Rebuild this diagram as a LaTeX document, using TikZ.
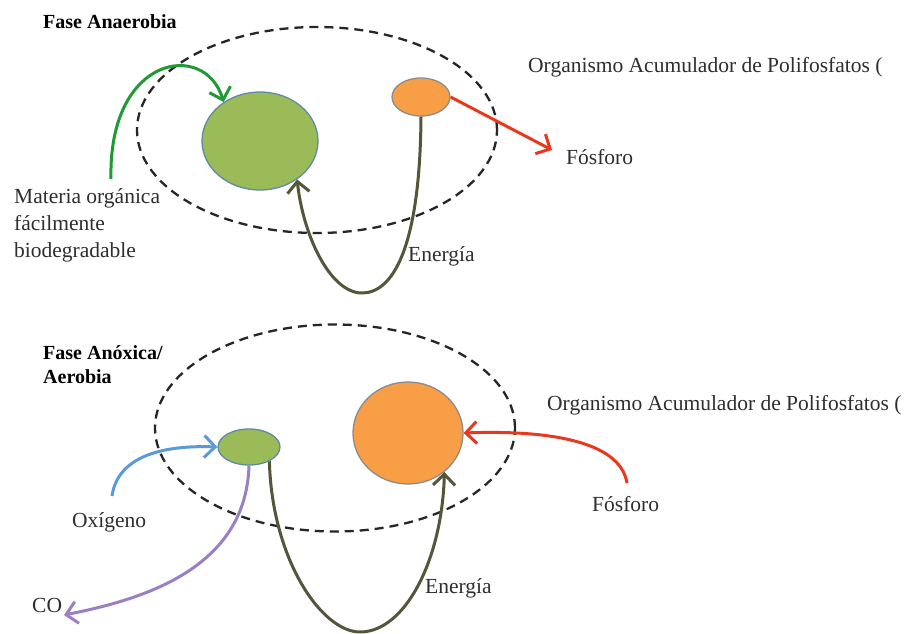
\documentclass[tikz,border=0pt]{standalone}
\usepackage{fontspec}
\setmainfont{LiberationSerif}[Extension=.ttf,UprightFont=*-Regular,BoldFont=*-Bold,ItalicFont=*-Italic,BoldItalicFont=*-BoldItalic]
\usetikzlibrary{arrows.meta,shapes.geometric}
\definecolor{txt}{HTML}{2E2E2E}
\definecolor{gfill}{HTML}{9BBB59}
\definecolor{gedge}{HTML}{5F8AA6}
\definecolor{ofill}{HTML}{F79E46}
\definecolor{oedge}{HTML}{8C8C8C}
\definecolor{olive}{HTML}{55553A}
\definecolor{garrow}{HTML}{1F9A34}
\definecolor{rarrow}{HTML}{E8391E}
\definecolor{barrow}{HTML}{5B9BD5}
\definecolor{parrow}{HTML}{9B7FC4}
\begin{document}
\begin{tikzpicture}[x=1pt,y=-1pt,
  lbl/.style={text=txt,font=\fontsize{21.5}{27}\selectfont,inner sep=0pt},
  ttl/.style={text=black,font=\fontsize{20}{24}\selectfont\bfseries,inner sep=0pt,anchor=west,align=left},
  zone/.style={draw=black!85,line width=2.3pt,dash pattern=on 9pt off 6pt},
  gcell/.style={ellipse,draw=gedge,line width=1.3pt,fill=gfill,inner sep=0pt},
  ocell/.style={ellipse,draw=oedge,line width=1.3pt,fill=ofill,inner sep=0pt},
  flow/.style={line width=3pt,-{Straight Barb[length=11pt,width=22pt]}}
]
\useasboundingbox (0,0) rectangle (915,634);
\clip (0,0) rectangle (915,634);
\fill[white] (0,0) rectangle (915,634);

% ---------- Top: Fase Anaerobia ----------
\node[ttl] (t1) at (43,22) {Fase Anaerobia};
\node[zone,ellipse,minimum width=360pt,minimum height=206pt,inner sep=0pt] (z1) at (317,130) {};
\node[gcell,minimum width=116pt,minimum height=98pt] (g1) at (260,141) {};
\node[ocell,minimum width=58pt,minimum height=38pt] (o1) at (421,97) {};
\node[lbl,anchor=west] (org1) at (528,67) {Organismo Acumulador de Polifosfatos (};
\node[lbl,anchor=west] (f1) at (566,157) {Fósforo};
\node[lbl,anchor=west] (e1) at (408,256) {Energía};
\node[lbl,anchor=north west,align=left] (m1) at (14,188) {Materia orgánica\\fácilmente\\biodegradable};
\coordinate (ms) at (111,179);
\coordinate (fp1) at (552,150);

\draw[flow,garrow] (ms) .. controls (108,55) and (205,40) .. (g1.133);
\draw[flow,rarrow] (o1.east) -- (fp1);
\draw[flow,olive] (o1.south) .. controls (420,250) and (392,293) .. (362,293)
  .. controls (330,293) and (303,235) .. (g1.-46);

% ---------- Bottom: Fase Anoxica/Aerobia ----------
\node[ttl] (t2) at (43,365) {Fase Anóxica/\\Aerobia};
\node[zone,ellipse,minimum width=360pt,minimum height=207pt,inner sep=0pt] (z2) at (335,428) {};
\node[gcell,minimum width=62pt,minimum height=36pt] (g2) at (249,447) {};
\node[ocell,minimum width=110pt,minimum height=102pt] (o2) at (408,433) {};
\node[lbl,anchor=west] (org2) at (547,405) {Organismo Acumulador de Polifosfatos (};
\node[lbl,anchor=west] (f2) at (592,504) {Fósforo};
\node[lbl,anchor=west] (e2) at (425,588) {Energía};
\node[lbl,anchor=west] (ox) at (72,522) {Oxígeno};
\node[lbl,anchor=west] (co) at (32,605) {CO};
\coordinate (os) at (112,496);
\coordinate (fs2) at (627,483);
\coordinate (cot) at (64,615);

\draw[flow,barrow] (os) .. controls (118,455) and (165,445) .. (g2.west);
\draw[flow,rarrow] (fs2) .. controls (620,440) and (545,430) .. (o2.east);
\draw[flow,parrow] (g2.south) .. controls (246,570) and (140,600) .. (cot);
\draw[flow,olive] (g2.-35) .. controls (272,560) and (322,632) .. (360,632)
  .. controls (405,632) and (442,560) .. (o2.-47);
\end{tikzpicture}
\end{document}
